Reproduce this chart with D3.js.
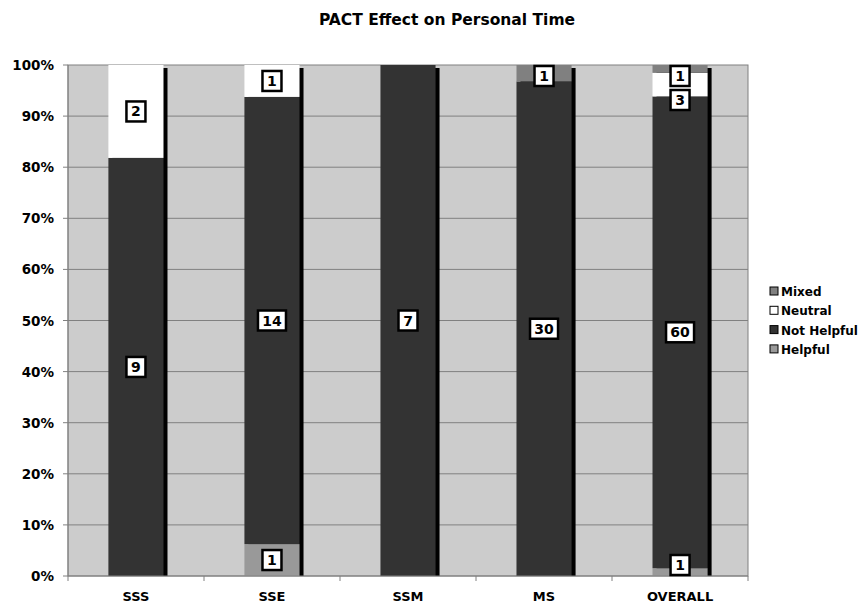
<!DOCTYPE html>
<html>
<head>
<meta charset="utf-8">
<script src="https://cdn.jsdelivr.net/npm/d3@7"></script>
<style>
  html, body { margin: 0; background: #fff; overflow: hidden; }
  svg { display: block; }
  text { font-family: "DejaVu Sans", Verdana, sans-serif; font-weight: bold; }
</style>
</head>
<body>
<svg id="chart"></svg>
<script>
// data (counts per group)
const categories = ["SSS", "SSE", "SSM", "MS", "OVERALL"];
const seriesNames = ["Helpful", "Not Helpful", "Neutral", "Mixed"];
const helpful    = [0, 1, 0, 0, 1];
const notHelpful = [9, 14, 7, 30, 60];
const neutral    = [2, 1, 0, 0, 3];
const mixed      = [0, 0, 0, 1, 1];
const yTicks = [0, 0.1, 0.2, 0.3, 0.4, 0.5, 0.6, 0.7, 0.8, 0.9, 1];
const colors = {"Helpful": "#999999", "Not Helpful": "#333333", "Neutral": "#ffffff", "Mixed": "#808080"};

const width = 860, height = 603;
const m = {top: 65, left: 68, right: 112, bottom: 27};
const svg = d3.select("#chart").attr("width", width).attr("height", height);

const rows = categories.map((c, i) => ({
  cat: c, "Helpful": helpful[i], "Not Helpful": notHelpful[i], "Neutral": neutral[i], "Mixed": mixed[i]
}));

const x = d3.scaleBand().domain(categories).range([m.left, width - m.right]).paddingInner(0.595).paddingOuter(0.297);
const xb = d3.scaleBand().domain(categories).range([m.left, width - m.right]);
const y = d3.scaleLinear().domain([0, 1]).range([height - m.bottom, m.top]);

// plot background
svg.append("rect").attr("x", m.left).attr("y", m.top)
  .attr("width", width - m.right - m.left).attr("height", y(0) - m.top)
  .attr("fill", "#cccccc").attr("stroke", "#808080");

// gridlines
svg.append("g").selectAll("line").data(yTicks.slice(1, -1)).enter().append("line")
  .attr("x1", m.left).attr("x2", width - m.right)
  .attr("y1", d => y(d)).attr("y2", d => y(d))
  .attr("stroke", "#808080").attr("stroke-width", 1);

const stack = d3.stack().keys(seriesNames).offset(d3.stackOffsetExpand);
const series = stack(rows);

svg.append("clipPath").attr("id", "plotclip").append("rect")
  .attr("x", m.left).attr("y", m.top - 10).attr("width", width).attr("height", y(0) - m.top + 10);

// shadows
svg.append("g").attr("clip-path", "url(#plotclip)").selectAll("rect").data(rows).enter().append("rect")
  .attr("x", d => x(d.cat) + 4).attr("y", y(1) + 3)
  .attr("width", x.bandwidth()).attr("height", y(0) - y(1))
  .attr("fill", "#000");

// segments
series.forEach(s => {
  svg.append("g").selectAll("rect").data(s).enter().append("rect")
    .attr("x", d => x(d.data.cat))
    .attr("y", d => y(d[1]))
    .attr("width", x.bandwidth())
    .attr("height", d => y(d[0]) - y(d[1]))
    .attr("fill", colors[s.key]);
});

// axes
svg.append("line").attr("x1", m.left).attr("x2", m.left).attr("y1", m.top).attr("y2", y(0)).attr("stroke", "#808080");
svg.append("line").attr("x1", m.left).attr("x2", width - m.right).attr("y1", y(0)).attr("y2", y(0)).attr("stroke", "#808080");
svg.append("g").selectAll("line").data(yTicks).enter().append("line")
  .attr("x1", m.left - 5).attr("x2", m.left).attr("y1", d => y(d)).attr("y2", d => y(d)).attr("stroke", "#808080");
svg.append("g").selectAll("text").data(yTicks).enter().append("text")
  .attr("x", 54).attr("y", d => y(d) + 5).attr("text-anchor", "end").attr("font-size", 13.5)
  .text(d => d3.format(".0%")(d));
svg.append("g").selectAll("line").data(categories.concat([null])).enter().append("line")
  .attr("x1", (d, i) => m.left + i * xb.bandwidth()).attr("x2", (d, i) => m.left + i * xb.bandwidth())
  .attr("y1", y(0)).attr("y2", y(0) + 5).attr("stroke", "#808080");
svg.append("g").selectAll("text").data(categories).enter().append("text")
  .attr("x", d => x(d) + x.bandwidth() / 2).attr("y", 601).attr("text-anchor", "middle").attr("font-size", 13)
  .text(d => d);

// data labels, kept inside the plot and apart from each other
const bh = 22;
rows.forEach((r, i) => {
  const labs = [];
  series.forEach(s => {
    if (r[s.key] > 0) labs.push({v: r[s.key], cy: y((s[i][0] + s[i][1]) / 2)});
  });
  labs.forEach(l => { l.cy = Math.max(m.top + bh / 2, Math.min(y(0) - bh / 2, l.cy)); });
  labs.sort((a, b) => a.cy - b.cy);
  for (let k = 1; k < labs.length; k++) {
    if (labs[k].cy - labs[k - 1].cy < bh + 2) labs[k].cy = labs[k - 1].cy + bh + 2;
  }
  const cx = x(r.cat) + x.bandwidth() / 2;
  labs.forEach(l => {
    const w = String(l.v).length > 1 ? 28 : 19;
    svg.append("rect").attr("x", cx - w / 2).attr("y", l.cy - bh / 2 + 1)
      .attr("width", w).attr("height", bh - 2)
      .attr("fill", "#fff").attr("stroke", "#000").attr("stroke-width", 2.5);
    svg.append("text").attr("x", cx).attr("y", l.cy + 5).attr("text-anchor", "middle")
      .attr("font-size", 14).text(l.v);
  });
});

// title
svg.append("text").attr("x", 447).attr("y", 25).attr("text-anchor", "middle").attr("font-size", 15.5)
  .text("PACT Effect on Personal Time");

// legend
const legOrder = ["Mixed", "Neutral", "Not Helpful", "Helpful"];
const leg = svg.append("g").selectAll("g").data(legOrder).enter().append("g")
  .attr("transform", (d, i) => `translate(770,${292 + i * 19.3})`);
leg.append("rect").attr("x", 0).attr("y", -5).attr("width", 8).attr("height", 8)
  .attr("fill", d => colors[d]).attr("stroke", "#000").attr("stroke-width", 1);
leg.append("text").attr("x", 11).attr("y", 4).attr("font-size", 12).text(d => d);
</script>
</body>
</html>
